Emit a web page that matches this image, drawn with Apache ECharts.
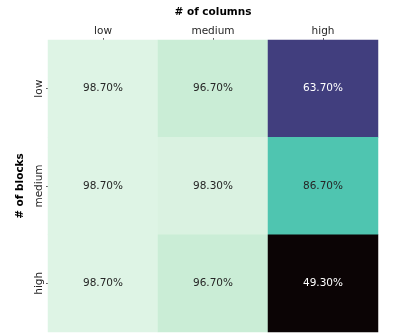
<!DOCTYPE html>
<html>
<head>
<meta charset="utf-8">
<script src="https://cdn.jsdelivr.net/npm/echarts@6/dist/echarts.min.js"></script>
<style>
html, body { margin: 0; padding: 0; background: #fff; }
#main { width: 399px; height: 333px; }
</style>
</head>
<body>
<div id="main"></div>
<script>
var columns = ['low', 'medium', 'high'];
var blocks = ['low', 'medium', 'high'];
// rows = # of blocks, cols = # of columns
var acc_low = [98.7, 96.7, 63.7];
var acc_medium = [98.7, 98.3, 86.7];
var acc_high = [98.7, 96.7, 49.3];

var rows = [acc_low, acc_medium, acc_high];
var data = [];
rows.forEach(function (row, y) {
    row.forEach(function (v, x) {
        var item = { value: [x, y, v] };
        // white text on the dark cells
        if (v < 70) {
            item.label = { color: '#ffffff' };
        }
        data.push(item);
    });
});

var font = 'DejaVu Sans';
var chart = echarts.init(document.getElementById('main'));

var option = {
    animation: false,
    grid: {
        left: 48,
        right: 21,
        top: 40,
        bottom: 1
    },
    xAxis: {
        type: 'category',
        data: columns,
        position: 'top',
        name: '# of columns',
        nameLocation: 'middle',
        nameGap: 22,
        nameTextStyle: { fontFamily: font, fontSize: 10.5, fontWeight: 'bold', color: '#000' },
        axisLine: { show: false },
        axisTick: { show: true, alignWithLabel: true, length: 2, lineStyle: { color: '#666' } },
        axisLabel: { fontFamily: font, fontSize: 10.5, color: '#262626', margin: 3 },
        splitLine: { show: false }
    },
    yAxis: {
        type: 'category',
        data: blocks,
        inverse: true,
        name: '# of blocks',
        nameLocation: 'middle',
        nameGap: 21,
        nameTextStyle: { fontFamily: font, fontSize: 10.5, fontWeight: 'bold', color: '#000' },
        axisLine: { show: false },
        axisTick: { show: true, alignWithLabel: true, length: 2, lineStyle: { color: '#666' } },
        axisLabel: { fontFamily: font, fontSize: 10.5, color: '#262626', rotate: 90, margin: 3 },
        splitLine: { show: false }
    },
    visualMap: {
        show: false,
        type: 'piecewise',
        dimension: 2,
        pieces: [
            { value: 49.3, color: '#0b0405' },
            { value: 63.7, color: '#413e7e' },
            { value: 86.7, color: '#4fc5b0' },
            { value: 96.7, color: '#caedd6' },
            { value: 98.3, color: '#daf2e1' },
            { value: 98.7, color: '#def4e5' }
        ]
    },
    series: [{
        type: 'heatmap',
        data: data,
        itemStyle: { borderWidth: 0 },
        label: {
            show: true,
            fontFamily: font,
            fontSize: 10.5,
            formatter: function (p) {
                return p.value[2].toFixed(2) + '%';
            },
            color: '#262626'
        },
        emphasis: { disabled: true }
    }]
};

chart.setOption(option);
</script>
</body>
</html>
